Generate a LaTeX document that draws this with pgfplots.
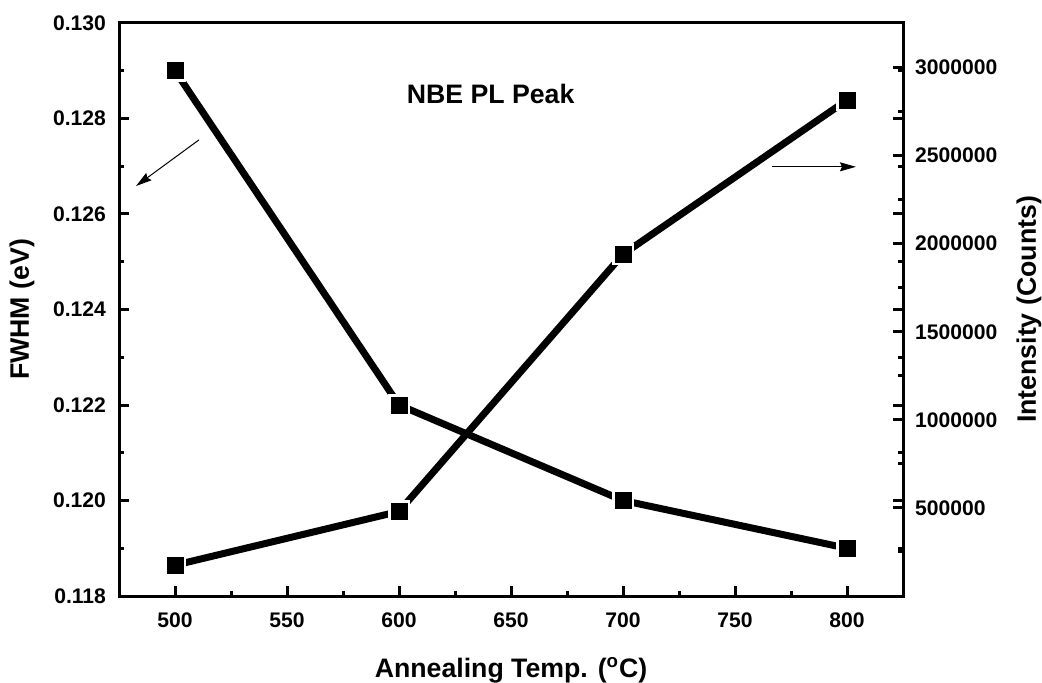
\documentclass[border=0pt]{standalone}
\usepackage{pgfplots}
\pgfplotsset{compat=1.18}
\usepackage{fontspec}
\setmainfont{Liberation Sans}
\usetikzlibrary{arrows.meta}

\begin{document}
\begin{tikzpicture}
\pgfplotsset{
  common/.style={
    scale only axis, width=392bp, height=286.5bp,
    xmin=475, xmax=825,
    axis line style={line width=1.5bp, black},
    tick align=inside,
    major tick length=5bp, minor tick length=2.5bp,
    every tick/.style={line width=1.5bp, black},
    tick label style={font=\fontsize{10.6}{12}\selectfont\bfseries},
    /pgf/number format/assume math mode=true,
    scaled y ticks=false,
    clip=false,
  },
  dataline/.style={black, line width=3.5bp, mark=square*,
    mark size=4.875bp, mark options={solid, fill=black, draw=white, line width=1.25bp}},
}
\begin{axis}[common,
  ymin=0.118, ymax=0.130,
  xtick={500,550,600,650,700,750,800},
  minor xtick={525,575,625,675,725,775},
  ytick={0.118,0.120,0.122,0.124,0.126,0.128,0.130},
  minor ytick={0.119,0.121,0.123,0.125,0.127,0.129},
  xtick pos=bottom, ytick pos=both,
  yticklabel style={/pgf/number format/.cd, fixed, fixed zerofill, precision=3},
  xticklabel shift=5bp,
  yticklabel shift=3bp,
  xlabel={Annealing Temp. (\textsuperscript{o}C)},
  ylabel={FWHM (eV)},
  every axis x label/.style={at={(axis description cs:0.5,-0.143)}, anchor=base,
    font=\fontsize{13.4}{16}\selectfont\bfseries},
  every axis y label/.style={at={(axis description cs:-0.1237,0.5)}, rotate=90, anchor=center,
    font=\fontsize{13.4}{16}\selectfont\bfseries},
]
\addplot[dataline] coordinates {(500,0.129) (600,0.122) (700,0.120) (800,0.119)};
\draw[line width=0.5bp, -{Stealth[length=8bp, width=4.5bp, inset=1bp]}]
  (rel axis cs:0.102,0.796) -- (rel axis cs:0.0217,0.7155);
\draw[line width=0.5bp, -{Stealth[length=8bp, width=4.5bp, inset=1bp]}]
  (rel axis cs:0.833,0.749) -- (rel axis cs:0.940,0.749);
\node[font=\fontsize{13.4}{16}\selectfont\bfseries] at (rel axis cs:0.474,0.876) {NBE PL Peak};
\end{axis}
\begin{axis}[common,
  axis y line*=right, axis x line=none,
  ymin=0, ymax=3252600,
  ytick={500000,1000000,1500000,2000000,2500000,3000000},
  minor ytick={250000,750000,1250000,1750000,2250000,2750000},
  yticklabel style={/pgf/number format/.cd, fixed, 1000 sep={}},
  yticklabel shift=2.5bp,
  ylabel={Intensity (Counts)},
  every axis y label/.style={at={(axis description cs:1.1607,0.5)}, rotate=90, anchor=center,
    font=\fontsize{13.4}{16}\selectfont\bfseries},
]
\addplot[dataline] coordinates {(500,175000) (600,480000) (700,1940000) (800,2815000)};
\end{axis}
\pgfresetboundingbox
\path (current axis.south west) ++(-59.5bp,-43.5bp) rectangle ++(521bp,341.5bp);
\end{tikzpicture}
\end{document}
